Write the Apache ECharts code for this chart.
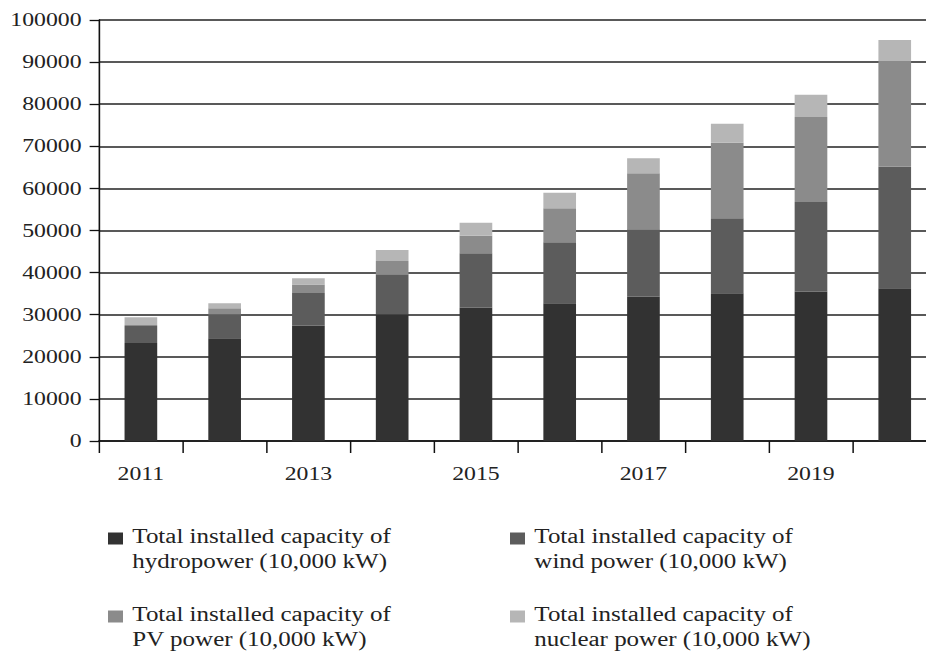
<!DOCTYPE html>
<html>
<head>
<meta charset="utf-8">
<script src="https://cdn.jsdelivr.net/npm/echarts@6/dist/echarts.min.js"></script>
<style>
  html, body { margin: 0; padding: 0; background: #ffffff; overflow: hidden; }
  #wrap { width: 926px; height: 657px; overflow: hidden; position: relative; }
  /* The reference image is horizontally stretched by ~1.25x */
  #c { width: 740.8px; height: 657px; transform: scaleX(1.25); transform-origin: 0 0; }
</style>
</head>
<body>
<div id="wrap"><div id="c"></div></div>
<script>
const years = ['2011', '2012', '2013', '2014', '2015', '2016', '2017', '2018', '2019', '2020'];
const hydro   = [23280, 24390, 27350, 30090, 31670, 32700, 34280, 35080, 35460, 36270];
const wind    = [4040, 5700, 7800, 9500, 12910, 14490, 16000, 17820, 21310, 28880];
const pv      = [250, 1430, 2050, 3170, 4190, 8080, 13300, 17960, 20190, 25110];
const nuclear = [1800, 1180, 1450, 2610, 3090, 3710, 3570, 4510, 5300, 4980];
const seriesNames = [
  'Total installed capacity of\nhydropower (10,000 kW)',
  'Total installed capacity of\nwind power (10,000 kW)',
  'Total installed capacity of\nPV power (10,000 kW)',
  'Total installed capacity of\nnuclear power (10,000 kW)'
];
const colors = ['#323232', '#5c5c5c', '#8b8b8b', '#b6b6b6'];

const FONT = '"Liberation Serif", "Times New Roman", serif';
const chart = echarts.init(document.getElementById('c'), null, { renderer: 'svg' });

const legendText = {
  fontFamily: FONT,
  fontSize: 20,
  lineHeight: 25,
  color: '#222',
  padding: [0, 0, 0, 2.5],
  rich: { s: { fontSize: 10, lineHeight: 21 } }
};
const legendCommon = {
  orient: 'vertical',
  top: 503,
  padding: 0,
  itemWidth: 12,
  itemHeight: 12,
  itemGap: 7,
  icon: 'rect',
  selectedMode: false,
  formatter: name => '{s| }\n' + name,
  textStyle: legendText
};

chart.setOption({
  animation: false,
  backgroundColor: '#ffffff',
  color: colors,
  grid: { left: 79.2, top: 20, height: 421, width: 670.1, containLabel: false, outerBoundsMode: 'none' },
  legend: [
    Object.assign({ data: [seriesNames[0], seriesNames[2]], left: 86.4 }, legendCommon),
    Object.assign({ data: [seriesNames[1], seriesNames[3]], left: 408 }, legendCommon)
  ],
  xAxis: {
    type: 'category',
    data: years,
    boundaryGap: true,
    axisLine: { show: true, lineStyle: { color: '#111', width: 1.6 } },
    axisTick: { show: true, interval: 0, length: 12, lineStyle: { color: '#111', width: 1.2 } },
    axisLabel: { interval: 1, margin: 23, fontFamily: FONT, fontSize: 19, color: '#222' },
    splitLine: { show: false }
  },
  yAxis: {
    type: 'value',
    min: 0,
    max: 100000,
    interval: 10000,
    axisLine: { show: true, lineStyle: { color: '#111', width: 1.3 } },
    axisTick: { show: true, length: 7.5, lineStyle: { color: '#111', width: 1.3 } },
    axisLabel: { margin: 14, fontFamily: FONT, fontSize: 19, color: '#222', formatter: v => String(v) },
    splitLine: { show: true, lineStyle: { color: '#222', width: 1.6 } }
  },
  series: [hydro, wind, pv, nuclear].map((d, i) => ({
    name: seriesNames[i],
    type: 'bar',
    stack: 'total',
    barWidth: '39%',
    data: d,
    itemStyle: { color: colors[i] }
  }))
});
</script>
</body>
</html>
